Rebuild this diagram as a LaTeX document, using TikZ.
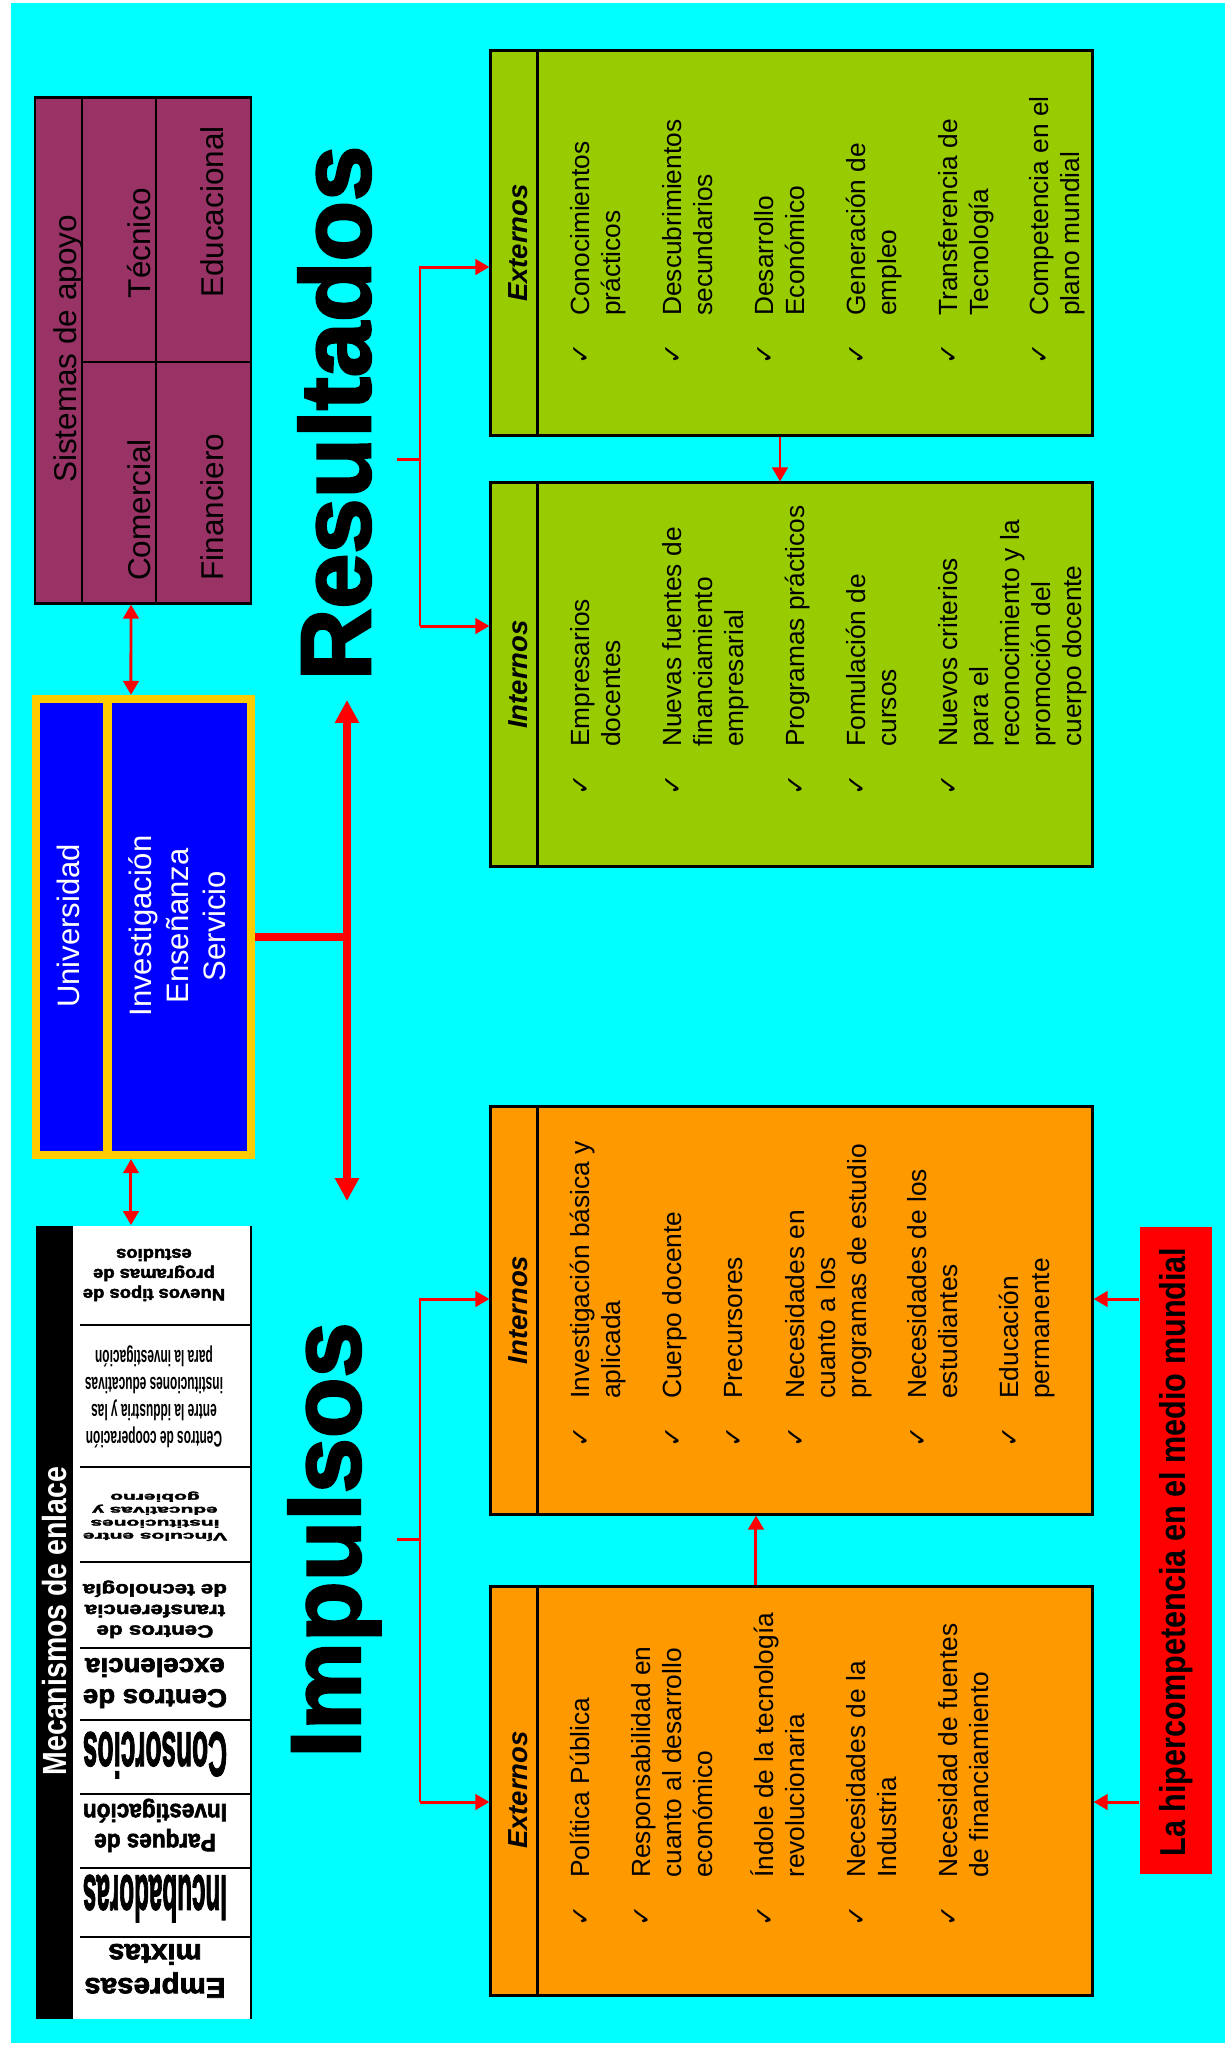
\documentclass[tikz,border=0pt]{standalone}
\usepackage{fontspec}
\setmainfont{Liberation Sans}
\newfontfamily\heavyfont{Liberation Sans}[FakeBold=2.5]
\newfontfamily\narrowfont{Liberation Sans}[FakeStretch=0.85]
\newfontfamily\ckfont{DejaVu Sans}
\usepackage{graphicx}
\usetikzlibrary{arrows.meta,calc}
\definecolor{bgcyan}{RGB}{0,255,255}
\definecolor{resgreen}{RGB}{153,204,0}
\definecolor{imporange}{RGB}{255,153,0}
\definecolor{supplum}{RGB}{153,51,102}
\definecolor{unblue}{RGB}{0,0,255}
\definecolor{unyellow}{RGB}{255,204,0}
\definecolor{arrred}{RGB}{255,0,0}
% one list entry: check mark, gap, lines
\newcommand{\itm}[1]{\rule{0pt}{1em}{\ckfont\fontsize{7.2pt}{7.5pt}\selectfont ✓}\hspace{7.8pt}\begin{tabular}[t]{@{}l@{}}#1\end{tabular}}

\begin{document}
\begin{tikzpicture}[x=0.01cm, y=-0.01cm,
  ibox/.style={draw=black, line width=0.8pt, inner sep=0pt, minimum width=6.01cm},
  itemnode/.style={rotate=90, anchor=north west, inner sep=0pt, font={\fontsize{7.48pt}{8.82pt}\selectfont}},
  hdr/.style={rotate=90, inner sep=0pt, font={\fontsize{7.82pt}{9pt}\selectfont\bfseries\itshape}},
  sistxt/.style={rotate=90, anchor=base, inner sep=0pt, font={\fontsize{8.96pt}{10.5pt}\selectfont}},
  unitxt/.style={rotate=90, inner sep=0pt, text=white, font={\fontsize{8.82pt}{10.53pt}\selectfont}},
  mcell/.style={rotate=180, inner sep=0pt, font=\heavyfont\bfseries},
  bigtitle/.style={rotate=90, anchor=base, inner sep=0pt, font={\heavyfont\bfseries\fontsize{28.2pt}{30pt}\selectfont}},
  conn/.style={arrred, line width=0.85pt},
  arrtip/.style={-{Triangle[length=4pt,width=4.4pt]}},
  arrboth/.style={{Triangle[length=4pt,width=4.4pt]}-{Triangle[length=4pt,width=4.4pt]}}]
  \useasboundingbox (0,0) rectangle (1225,2051);
  \fill[bgcyan] (11,3) rectangle (1225,2043);

  % Sistemas de apoyo
  \node[fill=supplum, draw=black, line width=0.8pt, minimum width=2.16cm, minimum height=5.05cm, inner sep=0pt] (sist) at (143,350.5) {};
  \draw[line width=0.8pt] (82,98) -- (82,603);
  \draw[line width=0.8pt] (156,98) -- (156,603);
  \draw[line width=0.8pt] (82,362) -- (251,362);
  \node[sistxt] (sisth) at (76,349) {Sistemas de apoyo};
  \node[sistxt] (stec) at (150,243) {Técnico};
  \node[sistxt] (scom) at (150,510) {Comercial};
  \node[sistxt] (sedu) at (223,212) {Educacional};
  \node[sistxt] (sfin) at (223,507) {Financiero};

  % Universidad
  \node[draw=unyellow, line width=0.08cm, fill=unblue, minimum width=2.15cm, minimum height=4.56cm, inner sep=0pt] (univ) at (143.5,927) {};
  \draw[unyellow, line width=0.09cm] (107.5,699) -- (107.5,1155);
  \node[unitxt, anchor=base] (unin) at (80,926) {Universidad};
  \node[unitxt, align=center] (unfun) at (177,926) {Investigación\\Enseñanza\\Servicio};
  \draw[conn, arrboth] ([xshift=-0.12cm]sist.south) -- ([xshift=-0.125cm]univ.north);

  % Mecanismos de enlace
  \node[fill=white, minimum width=2.15cm, minimum height=7.93cm, inner sep=0pt] (mec) at (143.5,1622.5) {};
  \fill[black] (36,1226) rectangle (73,2019);
  \draw[line width=0.8pt] (251,1226) -- (251,2019);
  \foreach \yy in {1325,1467,1562,1648,1720,1794,1868,1937}
    \draw[line width=0.8pt] (80,\yy) -- (251,\yy);
  \node[rotate=90, inner sep=0pt, text=white, font={\narrowfont\bfseries\fontsize{9.53pt}{11pt}\selectfont}] (mectit) at (54.5,1621) {Mecanismos de enlace};
  \node[mcell] (mc1) at (154,1273) {\resizebox*{1.42cm}{0.60cm}{\begin{tabular}{@{}c@{}}Nuevos tipos de\\programas de\\estudios\end{tabular}}};
  \node[mcell, font=\bfseries] (mc2) at (154,1396) {\resizebox*{1.38cm}{1.08cm}{\begin{tabular}{@{}c@{}}Centros de cooperación\\entre la iddustria y las\\instituciones educativas\\para la investigación\end{tabular}}};
  \node[mcell] (mc3) at (155,1516) {\resizebox*{1.44cm}{0.52cm}{\begin{tabular}{@{}c@{}}Vínculos entre\\instituciones\\educativas y\\gobierno\end{tabular}}};
  \node[mcell] (mc4) at (155,1609) {\resizebox*{1.44cm}{0.62cm}{\begin{tabular}{@{}c@{}}Centros de\\transferencia\\de tecnología\end{tabular}}};
  \node[mcell] (mc5) at (155,1680) {\resizebox*{1.44cm}{0.62cm}{\begin{tabular}{@{}c@{}}Centros de\\excelencia\end{tabular}}};
  \node[mcell] (mc6) at (155,1755) {\resizebox*{1.44cm}{0.46cm}{Consorcios}};
  \node[mcell] (mc7) at (155,1825) {\resizebox*{1.44cm}{0.60cm}{\begin{tabular}{@{}c@{}}Parques de\\Investigación\end{tabular}}};
  \node[mcell] (mc8) at (155,1898.5) {\resizebox*{1.44cm}{0.47cm}{Incubadoras}};
  \node[mcell] (mc9) at (155,1968) {\resizebox*{1.41cm}{0.68cm}{\begin{tabular}{@{}c@{}}Empresas\\mixtas\end{tabular}}};
  \draw[conn, arrboth] ([xshift=-0.125cm]univ.south) -- ([xshift=-0.125cm]mec.north);

  % big arrow between the two halves
  \coordinate (bigtop) at (347,700);
  \coordinate (bigbot) at (347,1201);
  \coordinate (unjoin) at ([yshift=-0.1cm]univ.east);
  \draw[arrred, line width=0.08cm, {Triangle[length=6.5pt,width=6.5pt]}-{Triangle[length=6.5pt,width=6.5pt]}] (bigtop) -- (bigbot);
  \draw[arrred, line width=0.08cm] (unjoin) -- (unjoin -| bigtop);

  % titles
  \node[bigtitle] (resul) at (370,413) {Resultados};
  \node[bigtitle] (impul) at (360,1540) {Impulsos};

  % Resultados: Externos
  \node[ibox, fill=resgreen, minimum height=3.84cm] (gext) at (791.5,243) {};
  \draw[line width=0.8pt] ([xshift=0.48cm]gext.north west) -- ([xshift=0.48cm]gext.south west);
  \node[hdr] (gexth) at (518,243) {Externos};
  \node[itemnode] (ge1) at (562,365) {\itm{Conocimientos\\prácticos}};
  \node[itemnode] (ge2) at (654,365) {\itm{Descubrimientos\\secundarios}};
  \node[itemnode] (ge3) at (746,365) {\itm{Desarrollo\\Económico}};
  \node[itemnode] (ge4) at (838,365) {\itm{Generación de\\empleo}};
  \node[itemnode] (ge5) at (930,365) {\itm{Transferencia de\\Tecnología}};
  \node[itemnode] (ge6) at (1021,365) {\itm{Competencia en el\\plano mundial}};

  % Resultados: Internos
  \node[ibox, fill=resgreen, minimum height=3.83cm] (gint) at (791.5,674.5) {};
  \draw[line width=0.8pt] ([xshift=0.48cm]gint.north west) -- ([xshift=0.48cm]gint.south west);
  \node[hdr] (ginth) at (518,674.5) {Internos};
  \node[itemnode] (gi1) at (562,796) {\itm{Empresarios\\docentes}};
  \node[itemnode] (gi2) at (654,796) {\itm{Nuevas fuentes de\\financiamiento\\empresarial}};
  \node[itemnode] (gi3) at (777,796) {\itm{Programas prácticos}};
  \node[itemnode] (gi4) at (838,796) {\itm{Fomulación de\\cursos}};
  \node[itemnode] (gi5) at (930,796) {\itm{Nuevos criterios\\para el\\reconocimiento y la\\promoción del\\cuerpo docente}};
  \draw[conn, arrtip] ([xshift=-0.115cm]gext.south) -- ([xshift=-0.115cm]gint.north);

  % Impulsos: Internos
  \node[ibox, fill=imporange, minimum height=4.07cm] (oint) at (791.5,1310.5) {};
  \draw[line width=0.8pt] ([xshift=0.48cm]oint.north west) -- ([xshift=0.48cm]oint.south west);
  \node[hdr] (ointh) at (518,1310) {Internos};
  \node[itemnode] (oi1) at (562,1448) {\itm{Investigación básica y\\aplicada}};
  \node[itemnode] (oi2) at (654,1448) {\itm{Cuerpo docente}};
  \node[itemnode] (oi3) at (715,1448) {\itm{Precursores}};
  \node[itemnode] (oi4) at (777,1448) {\itm{Necesidades en\\cuanto a los\\programas de estudio}};
  \node[itemnode] (oi5) at (899,1448) {\itm{Necesidades de los\\estudiantes}};
  \node[itemnode] (oi6) at (991,1448) {\itm{Educación\\permanente}};

  % Impulsos: Externos
  \node[ibox, fill=imporange, minimum height=4.08cm] (oext) at (791.5,1791) {};
  \draw[line width=0.8pt] ([xshift=0.48cm]oext.north west) -- ([xshift=0.48cm]oext.south west);
  \node[hdr] (oexth) at (518,1790) {Externos};
  \node[itemnode] (oe1) at (562,1927) {\itm{Política Pública}};
  \node[itemnode] (oe2) at (623,1927) {\itm{Responsabilidad en\\cuanto al desarrollo\\económico}};
  \node[itemnode] (oe3) at (746,1927) {\itm{Índole de la tecnología\\revolucionaria}};
  \node[itemnode] (oe4) at (838,1927) {\itm{Necesidades de la\\Industria}};
  \node[itemnode] (oe5) at (930,1927) {\itm{Necesidad de fuentes\\de financiamiento}};
  \draw[conn, arrtip] ([xshift=-0.355cm]oext.north) -- ([xshift=-0.355cm]oint.south);

  % brackets
  \coordinate (rstub) at (397,459);
  \coordinate (rtop) at (420,267);
  \coordinate (rbot) at (420,626);
  \draw[conn] (rstub) -- (rstub -| rtop);
  \draw[conn, arrtip] (rbot) -- (rtop) -- (rtop -| gext.west);
  \draw[conn, arrtip] (rbot) -- (rbot -| gint.west);
  \coordinate (istub) at (397,1539);
  \coordinate (itop) at (420,1299);
  \coordinate (ibot) at (420,1802);
  \draw[conn] (istub) -- (istub -| itop);
  \draw[conn, arrtip] (ibot) -- (itop) -- (itop -| oint.west);
  \draw[conn, arrtip] (ibot) -- (ibot -| oext.west);

  % hipercompetencia
  \node[fill=arrred, minimum width=0.72cm, minimum height=6.47cm, inner sep=0pt] (hiper) at (1176,1550.5) {};
  \node[rotate=90, inner sep=0pt, font={\narrowfont\bfseries\fontsize{10.24pt}{12pt}\selectfont}] (hipertxt) at (1176,1552) {La hipercompetencia en el medio mundial};
  \draw[conn, arrtip] (hiper.west |- itop) -- (oint.east |- itop);
  \draw[conn, arrtip] (hiper.west |- ibot) -- (oext.east |- ibot);
\end{tikzpicture}
\end{document}
